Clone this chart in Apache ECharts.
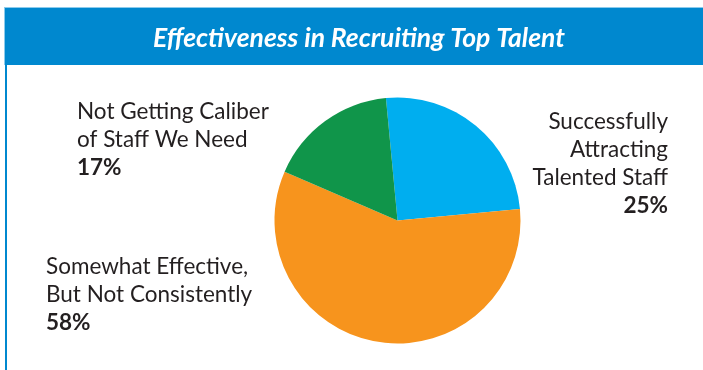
<!DOCTYPE html>
<html>
<head>
<meta charset="utf-8">
<script src="https://cdn.jsdelivr.net/npm/echarts@6/dist/echarts.min.js"></script>
<style>
html,body{margin:0;padding:0;background:#fff;}
#main{width:703px;height:370px;}
</style>
</head>
<body>
<div id="main"></div>
<script>
const titleText = 'Effectiveness in Recruiting Top Talent';
const categories = ['Successfully Attracting Talented Staff', 'Somewhat Effective, But Not Consistently', 'Not Getting Caliber of Staff We Need'];
const labelLines = [['Successfully', 'Attracting', 'Talented Staff'], ['Somewhat Effective,', 'But Not Consistently'], ['Not Getting Caliber', 'of Staff We Need']];
const values = [25, 58, 17];
const colors = ['#00AEEF', '#F7941D', '#10954A'];

const labelFont = 'Lato';
const labelPos = [
  { x: 668, y: 108, align: 'right' },
  { x: 46, y: 253, align: 'left' },
  { x: 77, y: 98, align: 'left' }
];

const chart = echarts.init(document.getElementById('main'), null, { renderer: 'canvas' });

const labelGraphics = categories.map((c, i) => ({
  type: 'text',
  x: labelPos[i].x,
  y: labelPos[i].y,
  style: {
    text: labelLines[i].map(l => '{n|' + l + '}').join('\n') + '\n{b|' + values[i] + '%}',
    align: labelPos[i].align,
    verticalAlign: 'top',
    rich: {
      n: { fontFamily: labelFont, fontSize: 22.5, lineHeight: 28, fill: '#231F20', align: labelPos[i].align },
      b: { fontFamily: labelFont, fontSize: 22.5, fontWeight: 'bold', lineHeight: 28, fill: '#231F20', align: labelPos[i].align }
    }
  }
}));

chart.setOption({
  animation: false,
  graphic: [
    { type: 'rect', shape: { x: 4, y: 7, width: 699, height: 58 }, style: { fill: '#0088CF' } },
    { type: 'rect', shape: { x: 4, y: 7, width: 699, height: 1 }, style: { fill: '#8CCBEC' } },
    { type: 'rect', shape: { x: 4, y: 7, width: 1, height: 58 }, style: { fill: '#8CCBEC' } },
    { type: 'rect', shape: { x: 5, y: 65, width: 2, height: 305 }, style: { fill: '#0088CF' } },
    {
      type: 'text', x: 359, y: 38,
      style: { text: titleText, align: 'center', verticalAlign: 'middle', fontFamily: labelFont, fontSize: 26.5, fontWeight: 'bold', fontStyle: 'italic', fill: '#FFFFFF' }
    }
  ].concat(labelGraphics),
  series: [{
    type: 'pie',
    center: [397.5, 220.5],
    radius: 123,
    startAngle: 95.4,
    clockwise: true,
    label: { show: false },
    labelLine: { show: false },
    emphasis: { disabled: true },
    itemStyle: { borderWidth: 0 },
    data: categories.map((c, i) => ({ name: c, value: values[i], itemStyle: { color: colors[i] } }))
  }]
});
</script>
</body>
</html>
